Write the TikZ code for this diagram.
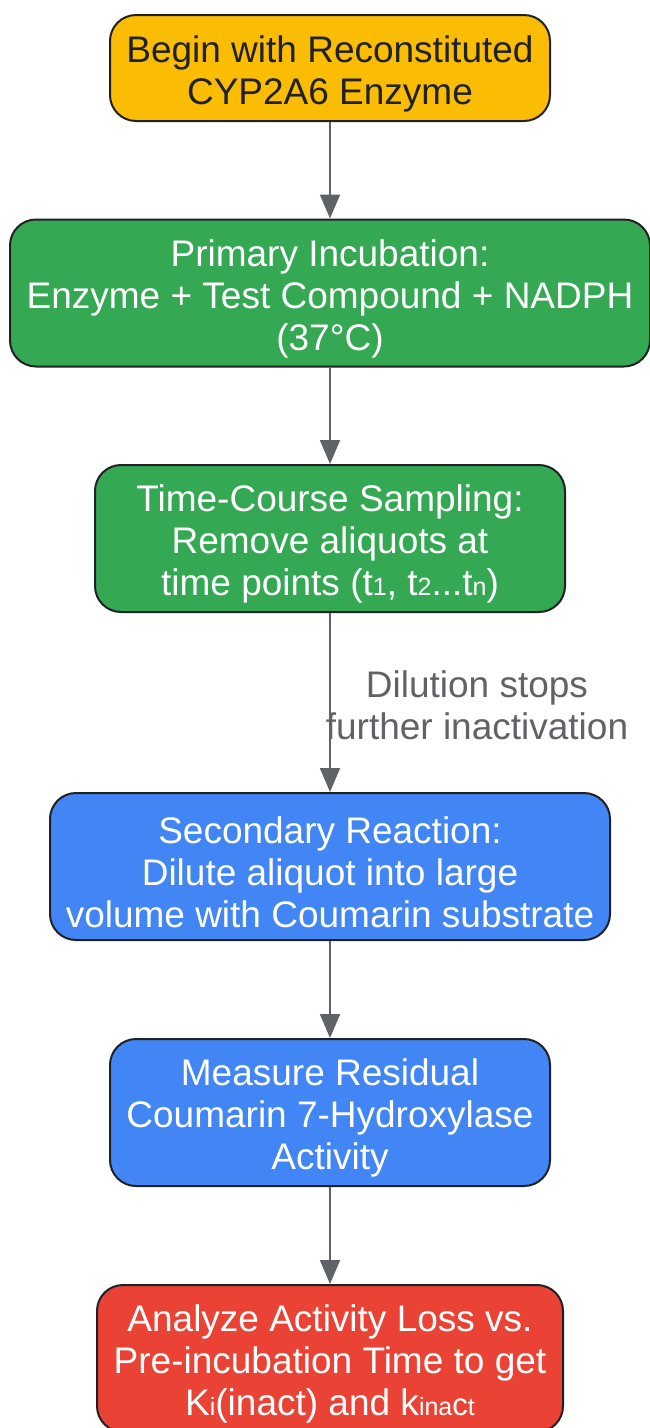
\documentclass[tikz,border=0pt]{standalone}
\usepackage{fontspec}
\setmainfont{Liberation Sans}
\usetikzlibrary{arrows.meta}

\definecolor{cypOrange}{HTML}{FBBC04}
\definecolor{cypGreen}{HTML}{34A853}
\definecolor{cypBlue}{HTML}{4285F4}
\definecolor{cypRed}{HTML}{EA4335}
\definecolor{cypEdge}{HTML}{202124}
\definecolor{cypGray}{HTML}{5F6368}

\newcommand{\lowidx}[1]{{\fontsize{25}{25}\selectfont #1}}
\newcommand{\topgap}{\rule{0pt}{38pt}}

\begin{document}
\begin{tikzpicture}[x=1pt, y=1pt,
	stepbox/.style={draw=cypEdge, line width=2pt, rounded corners=26pt,
		inner sep=0pt, align=center, text=white, minimum height=147pt,
		font=\fontsize{37}{42}\selectfont},
	flow/.style={-{Triangle[length=24pt, width=20pt]}, cypGray, line width=2pt}]
	\useasboundingbox (0,0) rectangle (650,-1428);

	\node[stepbox, fill=cypOrange, text=cypEdge, minimum width=440pt, minimum height=106pt]
		(begin) at (330,-68) {\topgap Begin with Reconstituted\\CYP2A6 Enzyme};
	\node[stepbox, fill=cypGreen, minimum width=640pt]
		(primary) at (330,-293) {\topgap Primary Incubation:\\Enzyme + Test Compound + NADPH\\(37°C)};
	\node[stepbox, fill=cypGreen, minimum width=470pt]
		(sampling) at (330,-538.5) {\topgap Time-Course Sampling:\\Remove aliquots at\\time points (t\lowidx{1}, t\lowidx{2}...t\lowidx{n})};
	\node[stepbox, fill=cypBlue, minimum width=560pt]
		(secondary) at (330,-866.5) {\topgap Secondary Reaction:\\Dilute aliquot into large\\volume with Coumarin substrate};
	\node[stepbox, fill=cypBlue, minimum width=440pt]
		(measure) at (330,-1112.5) {\topgap Measure Residual\\Coumarin 7-Hydroxylase\\Activity};
	\node[stepbox, fill=cypRed, minimum width=466pt]
		(analyze) at (330,-1358.5) {\topgap Analyze Activity Loss vs.\\Pre-incubation Time to get\\K\lowidx{i}(inact) and k\lowidx{ina}{\fontsize{31}{31}\selectfont c}\lowidx{t}};

	\draw[flow] (begin) -- (primary);
	\draw[flow] (primary) -- (sampling);
	\draw[flow] (sampling) -- (secondary);
	\draw[flow] (secondary) -- (measure);
	\draw[flow] (measure) -- (analyze);

	% edge label
	\node[align=center, text=cypGray, font=\fontsize{37}{42}\selectfont]
		(dilution) at (477,-705) {Dilution stops\\further inactivation};
\end{tikzpicture}
\end{document}
